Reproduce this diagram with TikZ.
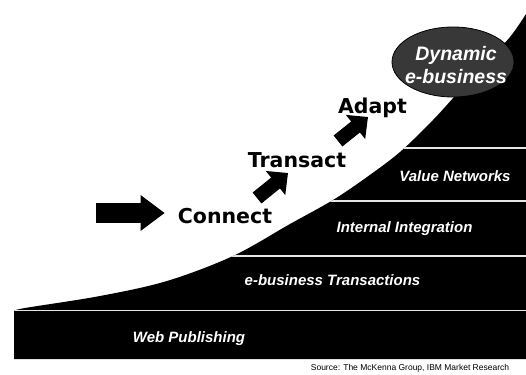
\documentclass[tikz,border=0pt]{standalone}
\usepackage{fontspec}
\setmainfont{Liberation Sans}
\newfontfamily\stepfont{DejaVu Sans}
\usetikzlibrary{arrows.meta,shapes.geometric}

\tikzset{
  steplabel/.style={font=\stepfont\bfseries\fontsize{20.5}{24}\selectfont, inner sep=0pt},
  bandlabel/.style={text=white, font=\bfseries\itshape\fontsize{15}{18}\selectfont, inner sep=0pt},
  stripe/.style={white!90!black, line width=1.5pt},
  bigarrow/.style={line width=20pt, -{Triangle[length=24pt,width=34pt]}},
  steparrow/.style={line width=14pt, -{Triangle[length=16pt,width=30pt]}},
}

\begin{document}
\begin{tikzpicture}[x=1pt,y=-1pt]
\useasboundingbox (0,0) rectangle (526,374);

% black staircase under the curve, cut by white stripes
\begin{scope}
\clip (14,359) -- plot[smooth,tension=0.55] coordinates {(14,311) (25,308) (100,296) (167,281) (233,256) (290,224) (333,200) (367,177) (400,152) (433,120) (455,96) (485,64) (510,37) (526,14)} -- (526,359) -- cycle;
\fill[black] (0,0) rectangle (526,374);
\foreach \y in {148,201,256,310.5}
  \draw[stripe] (0,\y) -- (526,\y);
\end{scope}

% bubble at the top
\node[ellipse, fill=black!78, draw=black, line width=0.8pt, minimum width=122pt, minimum height=70pt, inner sep=0pt] (bubble) at (453,62) {};
\node[text=white, font=\bfseries\itshape\fontsize{19.5}{23}\selectfont, align=center, inner sep=0pt] (dynamic) at (456,65) {Dynamic\\e-business};

% steps
\node[steplabel] (connect) at (225,216.5) {Connect};
\node[steplabel] (transact) at (297,160.5) {Transact};
\node[steplabel] (adapt) at (372.5,107.5) {Adapt};

% bands
\node[bandlabel] (value) at (455,176.5) {Value Networks};
\node[bandlabel] (integ) at (404.5,228.5) {Internal Integration};
\node[bandlabel] (trans) at (332.5,280) {e-business Transactions};
\node[bandlabel] (web) at (189,338.5) {Web Publishing};

\node[font=\fontsize{8.5}{10}\selectfont, inner sep=0pt] (source) at (410,368) {Source: The McKenna Group, IBM Market Research};

% arrows
\coordinate (start) at (96,213);
\coordinate (lift1) at (257,198);
\coordinate (lift1 tip) at (288,173);
\coordinate (lift2) at (338,141);
\coordinate (lift2 tip) at (368,117);
\draw[bigarrow, shorten >=13pt] (start) -- (start -| connect.west);
\draw[steparrow] (lift1) -- (lift1 tip);
\draw[steparrow] (lift2) -- (lift2 tip);
\end{tikzpicture}
\end{document}
